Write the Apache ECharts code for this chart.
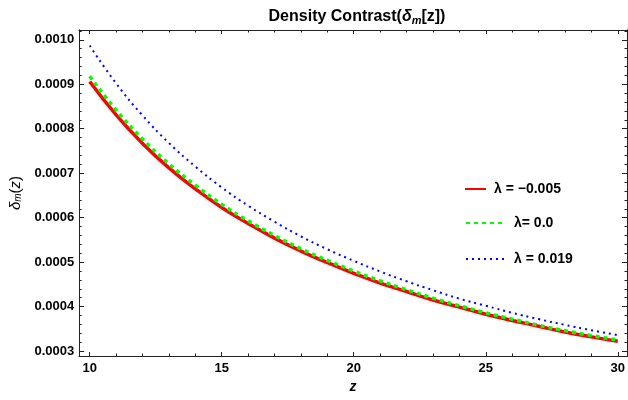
<!DOCTYPE html>
<html>
<head>
<meta charset="utf-8">
<script src="https://cdn.jsdelivr.net/npm/echarts@6/dist/echarts.min.js"></script>
<style>
  html, body { margin: 0; padding: 0; background: #fff; }
  #chart { width: 628px; height: 400px; }
</style>
</head>
<body>
<div id="chart"></div>
<script>
// z values
var zValues = [10, 11, 12, 13, 14, 15, 16, 17, 18, 19, 20, 21, 22, 23, 24, 25, 26, 27, 28, 29, 30];
var redValues = [0.000906, 0.000831, 0.000767, 0.000712, 0.000665, 0.000623, 0.000587, 0.000554, 0.000525, 0.000499, 0.000475,
                 0.000453, 0.000434, 0.000415, 0.000399, 0.000383, 0.000369, 0.000356, 0.000343, 0.000332, 0.000322];
var greenValues = [0.000918, 0.000842, 0.000777, 0.000721, 0.000673, 0.000630, 0.000593, 0.000560, 0.000530, 0.000504, 0.000480,
                   0.000458, 0.000438, 0.000419, 0.000402, 0.000386, 0.000372, 0.000358, 0.000346, 0.000335, 0.000325];
var blueValues = [0.000987, 0.000902, 0.000830, 0.000768, 0.000715, 0.000668, 0.000627, 0.000591, 0.000558, 0.000529, 0.000503,
                  0.000479, 0.000457, 0.000437, 0.000418, 0.000402, 0.000386, 0.000372, 0.000359, 0.000347, 0.000336];
var seriesNames = ['λ = −0.005', 'λ= 0.0', 'λ = 0.019'];

// tick labels
var xMajorTicks = [10, 15, 20, 25, 30];
var xMinorTicks = [10, 11, 12, 13, 14, 15, 16, 17, 18, 19, 20, 21, 22, 23, 24, 25, 26, 27, 28, 29, 30];
var yMajorTicks = [0.0003, 0.0004, 0.0005, 0.0006, 0.0007, 0.0008, 0.0009, 0.0010];
var yMinorTicks = [];
for (var k = 15; k <= 51; k++) yMinorTicks.push(k * 0.00002);

var X_MIN = 9.6, X_MAX = 30.35, Y_MIN = 0.000289, Y_MAX = 0.001022;
var frameColor = '#222';
var fontFam = '"Liberation Sans", Arial, sans-serif';

function pairs(ys) {
    return zValues.map(function (z, i) { return [z, ys[i]]; });
}

function xAxisOf(pos, ticks, len, labels) {
    return {
        type: 'value', position: pos, min: X_MIN, max: X_MAX,
        axisLine: { show: true, onZero: false, lineStyle: { color: frameColor, width: 1 } },
        axisTick: { show: true, inside: true, length: len, customValues: ticks, lineStyle: { color: frameColor } },
        axisLabel: labels ? {
            show: true, customValues: xMajorTicks, margin: 6,
            color: '#000', fontWeight: 'bold', fontSize: 13, fontFamily: fontFam
        } : { show: false },
        splitLine: { show: false }
    };
}

function yAxisOf(pos, ticks, len, labels) {
    return {
        type: 'value', position: pos, min: Y_MIN, max: Y_MAX,
        axisLine: { show: true, onZero: false, lineStyle: { color: frameColor, width: 1 } },
        axisTick: { show: true, inside: true, length: len, customValues: ticks, lineStyle: { color: frameColor } },
        axisLabel: labels ? {
            show: true, customValues: yMajorTicks, margin: 5,
            color: '#000', fontWeight: 'bold', fontSize: 13, fontFamily: fontFam,
            formatter: function (v) { return v.toFixed(4); }
        } : { show: false },
        splitLine: { show: false }
    };
}

var myChart = echarts.init(document.getElementById('chart'));

var xAxes = [
    xAxisOf('bottom', xMajorTicks, 4, true),
    xAxisOf('bottom', xMinorTicks, 2.5, false),
    xAxisOf('top', xMajorTicks, 4, false),
    xAxisOf('top', xMinorTicks, 2.5, false)
];
xAxes[0].name = 'z';
xAxes[0].nameLocation = 'middle';
xAxes[0].nameGap = 22;
xAxes[0].nameTextStyle = { color: '#000', fontSize: 14, fontStyle: 'italic', fontWeight: 'bold', fontFamily: fontFam };

var yAxes = [
    yAxisOf('left', yMajorTicks, 5, true),
    yAxisOf('left', yMinorTicks, 2.5, false),
    yAxisOf('right', yMajorTicks, 5, false),
    yAxisOf('right', yMinorTicks, 2.5, false)
];
yAxes[0].name = '{d|δ}{s|m}{n|(}{d|z}{n|)}';
yAxes[0].nameLocation = 'middle';
yAxes[0].nameRotate = 90;
yAxes[0].nameGap = 53;
yAxes[0].nameTextStyle = {
    color: '#000', fontFamily: fontFam,
    rich: {
        d: { fontSize: 15, fontStyle: 'italic', color: '#000', fontFamily: fontFam },
        s: { fontSize: 10, fontStyle: 'italic', color: '#000', fontFamily: fontFam, verticalAlign: 'bottom', padding: [6, 0, 0, 0] },
        n: { fontSize: 15, color: '#000', fontFamily: fontFam }
    }
};

function legendOf(name, top, left, w, gapPad) {
    return {
        data: [name], top: top, left: left, padding: 0,
        itemWidth: w, itemHeight: 14,
        selectedMode: false,
        itemStyle: { opacity: 0 },
        textStyle: {
            color: '#000', fontWeight: 'bold', fontSize: 14, fontFamily: fontFam,
            padding: [0, 0, 0, gapPad]
        }
    };
}

var option = {
    animation: false,
    backgroundColor: '#fff',
    title: {
        text: 'Density Contrast({d|δ}{s|m}[z])',
        left: 352, top: 3, textAlign: 'center',
        textStyle: {
            color: '#000', fontWeight: 'bold', fontSize: 16, fontFamily: fontFam,
            rich: {
                d: { fontSize: 16, fontWeight: 'bold', fontStyle: 'italic', color: '#000', fontFamily: fontFam },
                s: { fontSize: 11, fontWeight: 'bold', fontStyle: 'italic', color: '#000', fontFamily: fontFam, padding: [7, 0, 0, 0] }
            }
        }
    },
    legend: [
        legendOf(seriesNames[0], 182, 464, 21, 3),
        legendOf(seriesNames[1], 216, 465, 38, 5),
        legendOf(seriesNames[2], 252, 465, 38, 5)
    ],
    grid: { left: 78, top: 30, right: 1, bottom: 44, containLabel: false },
    xAxis: xAxes,
    yAxis: yAxes,
    series: [
        {
            name: seriesNames[0], type: 'line', smooth: true, symbol: 'none',
            xAxisIndex: 0, yAxisIndex: 0,
            data: pairs(redValues),
            lineStyle: { color: '#ff0000', width: 3.5, type: 'solid' },
            itemStyle: { color: '#ff0000' }
        },
        {
            name: seriesNames[1], type: 'line', smooth: true, symbol: 'none',
            xAxisIndex: 0, yAxisIndex: 0,
            data: pairs(greenValues),
            lineStyle: { color: '#00ff00', width: 3.5, type: [4, 4] },
            itemStyle: { color: '#00ff00' }
        },
        {
            name: seriesNames[2], type: 'line', smooth: true, symbol: 'none',
            xAxisIndex: 0, yAxisIndex: 0,
            data: pairs(blueValues),
            lineStyle: { color: '#0000ff', width: 2, type: [2, 4] },
            itemStyle: { color: '#0000ff' }
        }
    ]
};

myChart.setOption(option);
</script>
</body>
</html>
